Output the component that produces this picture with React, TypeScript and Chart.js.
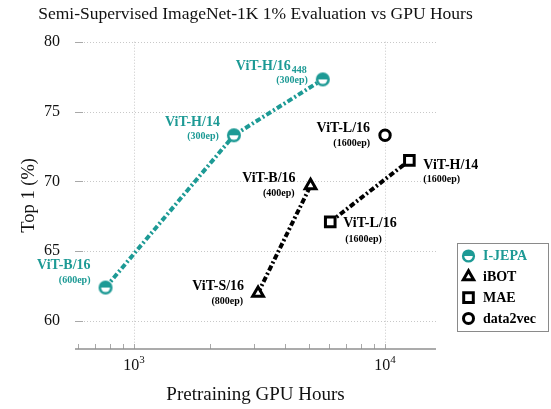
import React, { useEffect, useRef } from 'react';
import { Chart, registerables } from 'chart.js';

Chart.register(...registerables);

const TEAL = '#1d9a95';
const FONT = '"Liberation Serif", "Times New Roman", serif';

const titleText = 'Semi-Supervised ImageNet-1K 1% Evaluation vs GPU Hours';
const xTitle = 'Pretraining GPU Hours';
const yTitle = 'Top 1 (%)';

const seriesNames = ['I-JEPA', 'iBOT', 'MAE', 'data2vec'];

const ijepaHours = [770, 2500, 5650];
const ijepaTop1 = [62.4, 73.3, 77.3];
const ijepaModels = ['ViT-B/16', 'ViT-H/14', 'ViT-H/16'];
const ijepaModelSub = ['', '', '448'];
const ijepaEpochs = ['(600ep)', '(300ep)', '(300ep)'];

const ibotHours = [3120, 5050];
const ibotTop1 = [62.0, 69.7];
const ibotModels = ['ViT-S/16', 'ViT-B/16'];
const ibotModelSub = ['', ''];
const ibotEpochs = ['(800ep)', '(400ep)'];

const maeHours = [6050, 12500];
const maeTop1 = [67.1, 71.5];
const maeModels = ['ViT-L/16', 'ViT-H/14'];
const maeModelSub = ['', ''];
const maeEpochs = ['(1600ep)', '(1600ep)'];

const d2vHours = [10000];
const d2vTop1 = [73.3];
const d2vModels = ['ViT-L/16'];
const d2vModelSub = [''];
const d2vEpochs = ['(1600ep)'];

const yTicks = [60, 65, 70, 75, 80];
const xMajorTicks = [1000, 10000];
const xMajorBase = ['10', '10'];
const xMajorExp = ['3', '4'];
const xMinorTicks = [600, 700, 800, 900, 2000, 3000, 4000, 5000, 6000, 7000, 8000, 9000];

// label placement (style only): align side, main offset, sub offset
type Place = { side: 'left' | 'right'; dx: number; dy: number; sdx: number; sdy: number };
const labelPlaces: Place[][] = [
  [
    { side: 'right', dx: -15, dy: -22.5, sdx: -15, sdy: -7.5 },
    { side: 'right', dx: -14, dy: -13, sdx: -15, sdy: 1 },
    { side: 'right', dx: -16, dy: -13, sdx: -15, sdy: 1.5 },
  ],
  [
    { side: 'right', dx: -14, dy: -7, sdx: -15, sdy: 8 },
    { side: 'right', dx: -15, dy: -7, sdx: -16, sdy: 8 },
  ],
  [
    { side: 'left', dx: 13, dy: 2, sdx: 15, sdy: 18 },
    { side: 'left', dx: 14, dy: 4.5, sdx: 14, sdy: 18.5 },
  ],
  [{ side: 'right', dx: -15, dy: -7, sdx: -15, sdy: 8 }],
];

const seriesModels = [ijepaModels, ibotModels, maeModels, d2vModels];
const seriesModelSubs = [ijepaModelSub, ibotModelSub, maeModelSub, d2vModelSub];
const seriesEpochs = [ijepaEpochs, ibotEpochs, maeEpochs, d2vEpochs];
const seriesColors = [TEAL, '#000', '#000', '#000'];

function drawIJepa(ctx: CanvasRenderingContext2D, x: number, y: number, r: number) {
  ctx.save();
  ctx.fillStyle = TEAL;
  ctx.beginPath();
  ctx.arc(x, y, r, 0, Math.PI * 2);
  ctx.fill();
  ctx.fillStyle = '#fff';
  ctx.beginPath();
  const ir = r * 0.64;
  ctx.moveTo(x + ir, y);
  ctx.arc(x, y, ir, 0, Math.PI, false);
  ctx.closePath();
  ctx.fill();
  ctx.restore();
}

function makeIJepaIcon() {
  const c = document.createElement('canvas');
  c.width = 16;
  c.height = 16;
  const cx = c.getContext('2d')!;
  drawIJepa(cx, 8, 8, 7);
  return c;
}

function drawLegendMarker(ctx: CanvasRenderingContext2D, kind: number, x: number, y: number) {
  ctx.save();
  ctx.strokeStyle = '#000';
  ctx.fillStyle = '#fff';
  ctx.setLineDash([]);
  if (kind === 0) {
    drawIJepa(ctx, x, y, 6.6);
  } else if (kind === 1) {
    const r = 6;
    ctx.lineWidth = 3;
    ctx.beginPath();
    for (let k = 0; k < 3; k++) {
      const a = (k * 2 * Math.PI) / 3;
      const px = x + Math.sin(a) * r;
      const py = y - Math.cos(a) * r;
      if (k === 0) ctx.moveTo(px, py);
      else ctx.lineTo(px, py);
    }
    ctx.closePath();
    ctx.fill();
    ctx.stroke();
  } else if (kind === 2) {
    const s = 4.8;
    ctx.lineWidth = 3;
    ctx.beginPath();
    ctx.rect(x - s, y - s, 2 * s, 2 * s);
    ctx.fill();
    ctx.stroke();
  } else {
    ctx.lineWidth = 3;
    ctx.beginPath();
    ctx.arc(x, y, 5, 0, Math.PI * 2);
    ctx.fill();
    ctx.stroke();
  }
  ctx.restore();
}

const decorPlugin = {
  id: 'decor',
  beforeDatasetsDraw(chart: any) {
    const { ctx, chartArea: a, scales } = chart;
    const xs = scales.x;
    const ys = scales.y;
    ctx.save();
    ctx.lineWidth = 1;
    yTicks.forEach((v) => {
      const py = Math.round(ys.getPixelForValue(v)) + 0.5;
      ctx.setLineDash([]);
      ctx.strokeStyle = '#a8a8a8';
      ctx.beginPath();
      ctx.moveTo(a.left, py);
      ctx.lineTo(a.left + 8, py);
      ctx.stroke();
      ctx.setLineDash([1, 2]);
      ctx.strokeStyle = '#c8c8c8';
      ctx.beginPath();
      ctx.moveTo(a.left + 9, py);
      ctx.lineTo(a.right, py);
      ctx.stroke();
    });
    xMajorTicks.forEach((v) => {
      const px = Math.round(xs.getPixelForValue(v)) + 0.5;
      ctx.setLineDash([1, 2]);
      ctx.strokeStyle = '#c8c8c8';
      ctx.beginPath();
      ctx.moveTo(px, a.top);
      ctx.lineTo(px, a.bottom);
      ctx.stroke();
    });
    ctx.setLineDash([]);
    ctx.strokeStyle = '#a8a8a8';
    [...xMinorTicks, ...xMajorTicks].forEach((v) => {
      const px = Math.round(xs.getPixelForValue(v)) + 0.5;
      ctx.beginPath();
      ctx.moveTo(px, a.bottom);
      ctx.lineTo(px, a.bottom - 5);
      ctx.stroke();
    });
    ctx.strokeStyle = '#8f8f8f';
    ctx.lineWidth = 1.6;
    ctx.beginPath();
    ctx.moveTo(a.left, a.bottom);
    ctx.lineTo(a.right, a.bottom);
    ctx.stroke();
    ctx.restore();
  },
  afterDatasetsDraw(chart: any) {
    const { ctx } = chart;
    ctx.save();
    ctx.textBaseline = 'middle';
    chart.data.datasets.forEach((ds: any, di: number) => {
      const meta = chart.getDatasetMeta(di);
      meta.data.forEach((pt: any, i: number) => {
        const pl = labelPlaces[di][i];
        const main = seriesModels[di][i];
        const sub = seriesModelSubs[di][i];
        const ep = seriesEpochs[di][i];
        ctx.fillStyle = seriesColors[di];
        ctx.font = `bold 14px ${FONT}`;
        const mw = ctx.measureText(main).width;
        ctx.font = `bold 10px ${FONT}`;
        const sw = sub ? ctx.measureText(sub).width + 1 : 0;
        const total = mw + sw;
        const mx = pl.side === 'right' ? pt.x + pl.dx - total : pt.x + pl.dx;
        ctx.textAlign = 'left';
        ctx.font = `bold 14px ${FONT}`;
        ctx.fillText(main, mx, pt.y + pl.dy);
        if (sub) {
          ctx.font = `bold 10px ${FONT}`;
          ctx.fillText(sub, mx + mw + 1, pt.y + pl.dy + 4);
        }
        ctx.font = `bold 10px ${FONT}`;
        ctx.textAlign = pl.side === 'right' ? 'right' : 'left';
        ctx.fillText(ep, pt.x + pl.sdx, pt.y + pl.sdy);
      });
    });
    ctx.restore();
  },
  afterDraw(chart: any) {
    const { ctx, chartArea: a, scales } = chart;
    const xs = scales.x;
    ctx.save();
    ctx.fillStyle = '#111';
    ctx.textAlign = 'center';
    ctx.textBaseline = 'middle';
    ctx.font = `17.5px ${FONT}`;
    ctx.fillText(titleText, (a.left + a.right) / 2, 14);
    xMajorTicks.forEach((v, i) => {
      const px = xs.getPixelForValue(v);
      ctx.font = `16px ${FONT}`;
      const bw = ctx.measureText(xMajorBase[i]).width;
      ctx.font = `11px ${FONT}`;
      const ew = ctx.measureText(xMajorExp[i]).width;
      const left = px - (bw + ew) / 2;
      ctx.textAlign = 'left';
      ctx.font = `16px ${FONT}`;
      ctx.fillText(xMajorBase[i], left, a.bottom + 17);
      ctx.font = `11px ${FONT}`;
      ctx.fillText(xMajorExp[i], left + bw, a.bottom + 11);
    });
    const lx = a.right + 21.5;
    const ly = 243.5;
    ctx.strokeStyle = '#8a8a8a';
    ctx.lineWidth = 1;
    ctx.setLineDash([]);
    ctx.fillStyle = '#fff';
    ctx.fillRect(lx, ly, 91, 88);
    ctx.strokeRect(lx, ly, 91, 88);
    seriesNames.forEach((name, i) => {
      const cy = ly + 12.5 + i * 20.8;
      drawLegendMarker(ctx, i, lx + 11, cy);
      ctx.fillStyle = seriesColors[i];
      ctx.font = `bold 14px ${FONT}`;
      ctx.textAlign = 'left';
      ctx.textBaseline = 'middle';
      ctx.fillText(name, lx + 25.5, cy + 0.5);
    });
    ctx.restore();
  },
};

export default function App() {
  const ref = useRef<HTMLCanvasElement>(null);
  useEffect(() => {
    const canvas = ref.current!;
    const icon = makeIJepaIcon();
    const lineDash = [5.5, 2.5, 2, 2.5];
    const chart = new Chart(canvas, {
      type: 'scatter',
      data: {
        datasets: [
          {
            label: seriesNames[0],
            data: ijepaHours.map((x, i) => ({ x, y: ijepaTop1[i] })),
            showLine: true,
            borderColor: TEAL,
            borderWidth: 4,
            borderDash: lineDash,
            pointStyle: icon as any,
            pointRadius: 7,
          },
          {
            label: seriesNames[1],
            data: ibotHours.map((x, i) => ({ x, y: ibotTop1[i] })),
            showLine: true,
            borderColor: '#000',
            borderWidth: 4,
            borderDash: lineDash,
            pointStyle: 'triangle',
            pointRadius: 6.2,
            pointBorderWidth: 3,
            pointBorderColor: '#000',
            pointBackgroundColor: '#fff',
          },
          {
            label: seriesNames[2],
            data: maeHours.map((x, i) => ({ x, y: maeTop1[i] })),
            showLine: true,
            borderColor: '#000',
            borderWidth: 4,
            borderDash: lineDash,
            pointStyle: 'rect',
            pointRadius: 6.8,
            pointBorderWidth: 3,
            pointBorderColor: '#000',
            pointBackgroundColor: '#fff',
          },
          {
            label: seriesNames[3],
            data: d2vHours.map((x, i) => ({ x, y: d2vTop1[i] })),
            showLine: false,
            borderColor: '#000',
            pointStyle: 'circle',
            pointRadius: 5.2,
            pointBorderWidth: 3,
            pointBorderColor: '#000',
            pointBackgroundColor: '#fff',
          },
        ],
      },
      options: {
        responsive: false,
        animation: false,
        devicePixelRatio: 1,
        layout: { padding: { top: 41.7, right: 115, left: 0, bottom: 0 } },
        plugins: {
          legend: { display: false },
          title: { display: false },
          tooltip: { enabled: false },
        },
        scales: {
          x: {
            type: 'logarithmic',
            min: 582,
            max: 15960,
            bounds: 'data',
            grid: { display: false },
            border: { display: false },
            ticks: { display: false },
            afterBuildTicks: (s: any) => {
              s.ticks = xMajorTicks.map((v) => ({ value: v }));
            },
            afterFit: (s: any) => {
              s.height = 60;
            },
            title: {
              display: true,
              text: xTitle,
              color: '#111',
              font: { family: FONT, size: 19 },
              padding: { top: 0, bottom: 3 },
            },
          },
          y: {
            type: 'linear',
            min: 58,
            max: 80,
            bounds: 'data',
            grid: { display: false },
            border: { display: false },
            afterBuildTicks: (s: any) => {
              s.ticks = yTicks.map((v) => ({ value: v }));
            },
            afterFit: (s: any) => {
              s.width = 75;
            },
            ticks: {
              color: '#111',
              padding: 7,
              font: { family: FONT, size: 16 },
              callback: (v: any) => String(v),
            },
            title: {
              display: true,
              text: yTitle,
              color: '#111',
              font: { family: FONT, size: 18.5 },
              padding: { top: 18, bottom: 0 },
            },
          },
        },
      },
      plugins: [decorPlugin],
    });
    return () => chart.destroy();
  }, []);
  return (
    <div style={{ position: 'absolute', left: 0, top: 0, width: 551, height: 409, background: '#fff' }}>
      <canvas ref={ref} width={551} height={409} style={{ display: 'block' }} />
    </div>
  );
}
